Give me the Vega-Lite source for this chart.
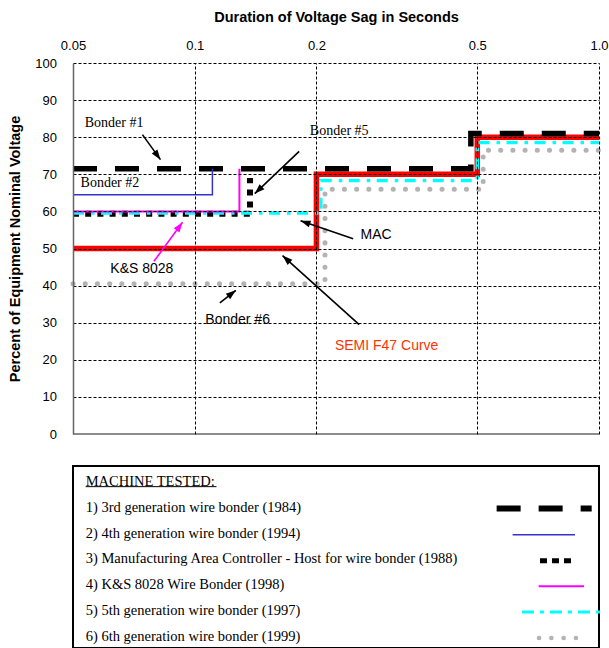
{
  "$schema": "https://vega.github.io/schema/vega-lite/v6.json",
  "padding": {"top": 9, "left": 6, "right": 0, "bottom": 0},
  "spacing": 24,
  "background": "white",
  "config": {"view": {"stroke": null}, "font": "Liberation Sans"},
  "datasets": {
    "series": [
      {"s": "semi", "i": 0, "x": 0.05, "y": 50}, {"s": "semi", "i": 1, "x": 0.2, "y": 50}, {"s": "semi", "i": 2, "x": 0.2, "y": 70}, {"s": "semi", "i": 3, "x": 0.5, "y": 70}, {"s": "semi", "i": 4, "x": 0.5, "y": 80}, {"s": "semi", "i": 5, "x": 1, "y": 80},
      {"s": "b1", "i": 0, "x": 0.05, "y": 71.5}, {"s": "b1", "i": 1, "x": 0.482, "y": 71.5}, {"s": "b1", "i": 2, "x": 0.482, "y": 81}, {"s": "b1", "i": 3, "x": 1, "y": 81},
      {"s": "b2", "i": 0, "x": 0.05, "y": 64.5}, {"s": "b2", "i": 1, "x": 0.1106, "y": 64.5}, {"s": "b2", "i": 2, "x": 0.1106, "y": 71.5},
      {"s": "mac", "i": 0, "x": 0.05, "y": 59.4}, {"s": "mac", "i": 1, "x": 0.137, "y": 59.4}, {"s": "mac", "i": 2, "x": 0.137, "y": 69},
      {"s": "ks", "i": 0, "x": 0.05, "y": 60}, {"s": "ks", "i": 1, "x": 0.129, "y": 60}, {"s": "ks", "i": 2, "x": 0.129, "y": 71.5},
      {"s": "b5", "i": 0, "x": 0.05, "y": 59.6}, {"s": "b5", "i": 1, "x": 0.205, "y": 59.6}, {"s": "b5", "i": 2, "x": 0.205, "y": 68.3}, {"s": "b5", "i": 3, "x": 0.5, "y": 68.3}, {"s": "b5", "i": 4, "x": 0.5, "y": 78.6}, {"s": "b5", "i": 5, "x": 1, "y": 78.6},
      {"s": "b6", "i": 0, "x": 0.05, "y": 40.5}, {"s": "b6", "i": 1, "x": 0.21, "y": 40.5}, {"s": "b6", "i": 2, "x": 0.21, "y": 66}, {"s": "b6", "i": 3, "x": 0.517, "y": 66}, {"s": "b6", "i": 4, "x": 0.517, "y": 76.5}, {"s": "b6", "i": 5, "x": 1, "y": 76.5}
    ],
    "arrows": [
      {"x": 0.08228, "y": 73.95, "x2": 0.07426, "y2": 80.7, "ang": 144.2, "c": "#000000"},
      {"x": 0.1408, "y": 64.8, "x2": 0.1813, "y2": 76.2, "ang": 226.3, "c": "#000000"},
      {"x": 0.1827, "y": 57.5, "x2": 0.2466, "y2": 52.6, "ang": 289.2, "c": "#000000"},
      {"x": 0.0933, "y": 57.06, "x2": 0.0793, "y2": 46.55, "ang": 36.1, "c": "#ff00ff"},
      {"x": 0.1264, "y": 38.74, "x2": 0.1154, "y2": 35.34, "ang": 51.8, "c": "#000000"},
      {"x": 0.1649, "y": 48.09, "x2": 0.2552, "y2": 29.5, "ang": 312, "c": "#000000"}
    ],
    "legendRows": [
      {"x": 0.0242, "row": 0, "t": "MACHINE TESTED:"},
      {"x": 0.0242, "row": 1, "t": "1) 3rd generation wire bonder (1984)"},
      {"x": 0.0242, "row": 2, "t": "2) 4th generation wire bonder (1994)"},
      {"x": 0.0242, "row": 3, "t": "3) Manufacturing Area Controller - Host for wire bonder (1988)"},
      {"x": 0.0242, "row": 4, "t": "4) K&S 8028 Wire Bonder (1998)"},
      {"x": 0.0242, "row": 5, "t": "5) 5th generation wire bonder (1997)"},
      {"x": 0.0242, "row": 6, "t": "6) 6th generation wire bonder (1999)"}
    ]
  },
  "vconcat": [
    {
      "width": 526,
      "height": 371,
      "encoding": {
        "x": {
          "field": "x", "type": "quantitative",
          "scale": {"type": "log", "domain": [0.05, 1], "nice": false},
          "axis": {
            "orient": "top", "values": [0.05, 0.1, 0.2, 0.5, 1],
            "labelExpr": "datum.value >= 0.99 ? '1.0' : format(datum.value, '~g')",
            "grid": true, "gridColor": "#000000", "gridDash": [3, 2], "gridWidth": 1,
            "gridOpacity": {"condition": {"test": "datum.value < 0.06", "value": 0}, "value": 1},
            "domain": false, "ticks": false, "tickSize": 0, "labelPadding": 11,
            "labelFontSize": 13, "labelColor": "#000000", "labelFont": "Liberation Sans",
            "labelFlush": false, "labelOverlap": false,
            "title": "Duration of Voltage Sag in Seconds", "titleFont": "Liberation Sans",
            "titleFontSize": 14.5, "titleFontWeight": "bold", "titleColor": "#000000", "titlePadding": 15,
            "zindex": 1
          }
        },
        "y": {
          "field": "y", "type": "quantitative",
          "scale": {"domain": [0, 100], "nice": false},
          "axis": {
            "values": [0, 10, 20, 30, 40, 50, 60, 70, 80, 90, 100],
            "grid": true, "gridColor": "#000000", "gridDash": [3, 2], "gridWidth": 1,
            "gridOpacity": {"condition": {"test": "datum.value == 0", "value": 0}, "value": 1},
            "domain": true, "domainColor": "#666666", "domainWidth": 1.5,
            "ticks": false, "tickSize": 0, "labelPadding": 16.6,
            "labelFontSize": 13, "labelColor": "#000000", "labelFont": "Liberation Sans",
            "minExtent": 40, "maxExtent": 40,
            "title": "Percent of Equipment Nominal Voltage", "titleFont": "Liberation Sans",
            "titleFontSize": 14.5, "titleFontWeight": "bold", "titleColor": "#000000", "titlePadding": 10.4,
            "zindex": 1
          }
        }
      },
      "layer": [
        {
          "data": {"values": [{"x": 0.05, "x2": 1, "y": 0}]},
          "mark": {"type": "rule", "color": "#666666", "strokeWidth": 1.5},
          "encoding": {"x2": {"field": "x2"}}
        },
        {
          "data": {"name": "series"},
          "transform": [{"filter": "datum.s == 'semi'"}],
          "mark": {"type": "line", "color": "#ff0000", "strokeWidth": 5.5, "strokeJoin": "miter"},
          "encoding": {"order": {"field": "i"}}
        },
        {
          "data": {"name": "series"},
          "transform": [{"filter": "datum.s == 'b1'"}],
          "mark": {"type": "line", "color": "#000000", "strokeWidth": 5.5, "strokeDash": [24, 18], "strokeCap": "butt"},
          "encoding": {"order": {"field": "i"}}
        },
        {
          "data": {"name": "series"},
          "transform": [{"filter": "datum.s == 'mac'"}],
          "mark": {"type": "line", "color": "#000000", "strokeWidth": 6, "strokeDash": [6, 6.2], "strokeCap": "butt"},
          "encoding": {"order": {"field": "i"}}
        },
        {
          "data": {"name": "series"},
          "transform": [{"filter": "datum.s == 'b6'"}],
          "mark": {"type": "line", "color": "#b3b3b3", "strokeWidth": 5, "strokeDash": [0.1, 12.1], "strokeCap": "round"},
          "encoding": {"order": {"field": "i"}}
        },
        {
          "data": {"name": "series"},
          "transform": [{"filter": "datum.s == 'b5'"}],
          "mark": {"type": "line", "color": "#00ffff", "strokeWidth": 3.5, "strokeDash": [11, 7, 3.5, 6.5], "strokeCap": "butt"},
          "encoding": {"order": {"field": "i"}}
        },
        {
          "data": {"name": "series"},
          "transform": [{"filter": "datum.s == 'ks'"}],
          "mark": {"type": "line", "color": "#ff00ff", "strokeWidth": 2},
          "encoding": {"order": {"field": "i"}}
        },
        {
          "data": {"name": "series"},
          "transform": [{"filter": "datum.s == 'b2'"}],
          "mark": {"type": "line", "color": "#3333cc", "strokeWidth": 1.5},
          "encoding": {"order": {"field": "i"}}
        },
        {
          "data": {"name": "arrows"},
          "mark": {"type": "rule", "strokeWidth": 1.6},
          "encoding": {
            "x2": {"field": "x2"}, "y2": {"field": "y2"},
            "color": {"field": "c", "type": "nominal", "scale": null}
          }
        },
        {
          "data": {"name": "arrows"},
          "mark": {"type": "point", "shape": "M0,0L-0.35,1L0.35,1Z", "filled": true, "size": 400, "opacity": 1},
          "encoding": {
            "color": {"field": "c", "type": "nominal", "scale": null},
            "angle": {"field": "ang", "type": "quantitative", "scale": null}
          }
        },
        {
          "data": {"values": [
            {"x": 0.0632, "y": 83.8, "t": "Bonder #1"},
            {"x": 0.0617, "y": 67.75, "t": "Bonder #2"},
            {"x": 0.2277, "y": 81.7, "t": "Bonder #5"}
          ]},
          "mark": {"type": "text", "font": "Liberation Serif", "fontSize": 14, "color": "#000000", "align": "center", "baseline": "middle"},
          "encoding": {"text": {"field": "t"}}
        },
        {
          "data": {"values": [
            {"x": 0.281, "y": 53.7, "t": "MAC"},
            {"x": 0.074, "y": 44.6, "t": "K&S 8028"},
            {"x": 0.1277, "y": 30.6, "t": "Bonder #6"}
          ]},
          "mark": {"type": "text", "font": "Liberation Sans", "fontSize": 14, "color": "#000000", "align": "center", "baseline": "middle"},
          "encoding": {"text": {"field": "t"}}
        },
        {
          "data": {"values": [{"x": 0.2222, "y": 23.6, "t": "SEMI F47 Curve"}]},
          "mark": {"type": "text", "font": "Liberation Sans", "fontSize": 14, "color": "#ff3300", "align": "left", "baseline": "middle"},
          "encoding": {"text": {"field": "t"}}
        }
      ]
    },
    {
      "width": 526,
      "height": 182,
      "view": {"stroke": "#000000", "strokeWidth": 2},
      "encoding": {
        "x": {"field": "x", "type": "quantitative", "scale": {"domain": [0, 1], "nice": false, "zero": false}, "axis": null},
        "y": {
          "field": "row", "type": "quantitative",
          "scale": {"domain": [-0.62, 6.43], "reverse": true, "nice": false, "zero": false},
          "axis": {
            "title": "P", "titleOpacity": 0,
            "titleFont": "Liberation Sans", "titleFontSize": 14.5, "titleFontWeight": "bold", "titlePadding": 10.4,
            "labels": false, "ticks": false, "domain": false, "grid": false,
            "minExtent": 40, "maxExtent": 40
          }
        }
      },
      "layer": [
        {
          "data": {"name": "legendRows"},
          "mark": {"type": "text", "font": "Liberation Serif", "fontSize": 14.5, "color": "#000000", "align": "left", "baseline": "middle"},
          "encoding": {"text": {"field": "t"}}
        },
        {
          "data": {"values": [{"x": 0.0242, "x2": 0.2728, "row": 0.18}]},
          "mark": {"type": "rule", "color": "#000000", "strokeWidth": 1},
          "encoding": {"x2": {"field": "x2"}}
        },
        {
          "data": {"values": [{"x": 0.8054, "x2": 0.9861, "row": 1.03}]},
          "mark": {"type": "rule", "color": "#000000", "strokeWidth": 6, "strokeDash": [24, 18]},
          "encoding": {"x2": {"field": "x2"}}
        },
        {
          "data": {"values": [{"x": 0.8358, "x2": 0.9544, "row": 2.04}]},
          "mark": {"type": "rule", "color": "#3333cc", "strokeWidth": 1.5},
          "encoding": {"x2": {"field": "x2"}}
        },
        {
          "data": {"values": [{"x": 0.8878, "x2": 0.9467, "row": 3.05}]},
          "mark": {"type": "rule", "color": "#000000", "strokeWidth": 5, "strokeDash": [7, 5]},
          "encoding": {"x2": {"field": "x2"}}
        },
        {
          "data": {"values": [{"x": 0.8853, "x2": 0.9715, "row": 4.04}]},
          "mark": {"type": "rule", "color": "#ff00ff", "strokeWidth": 2},
          "encoding": {"x2": {"field": "x2"}}
        },
        {
          "data": {"values": [{"x": 0.8535, "x2": 1.0019, "row": 5.04}]},
          "mark": {"type": "rule", "color": "#00ffff", "strokeWidth": 3, "strokeDash": [12, 6, 4, 6]},
          "encoding": {"x2": {"field": "x2"}}
        },
        {
          "data": {"values": [{"x": 0.8859, "x2": 0.9563, "row": 6.04}]},
          "mark": {"type": "rule", "color": "#b3b3b3", "strokeWidth": 4.5, "strokeDash": [0.1, 12.2], "strokeCap": "round"},
          "encoding": {"x2": {"field": "x2"}}
        }
      ]
    }
  ]
}
